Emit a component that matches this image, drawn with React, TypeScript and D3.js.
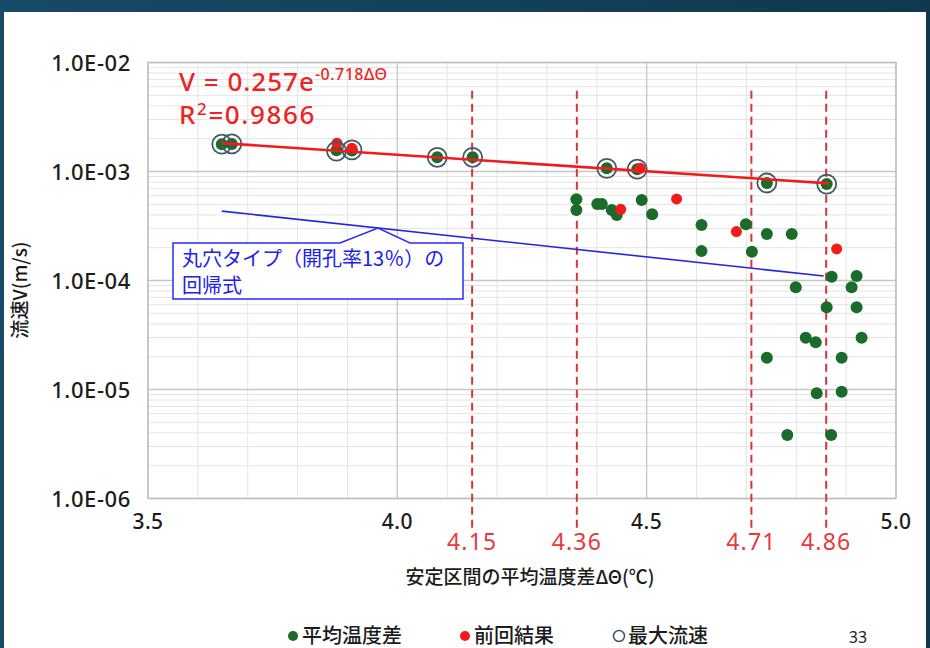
import React from "react";
import * as d3 from "d3";

// ---- data ----
const avgX = [3.648, 3.668, 3.878, 3.909, 4.08, 4.151, 4.42, 4.481, 4.741, 4.861,
  4.359, 4.359, 4.401, 4.41, 4.43, 4.44, 4.49, 4.511, 4.61, 4.61, 4.699, 4.711, 4.741, 4.791,
  4.871, 4.921, 4.799, 4.911, 4.861, 4.921, 4.819, 4.839, 4.931, 4.741, 4.891, 4.841, 4.891, 4.782, 4.87];
const avgV = [1.78e-3, 1.79e-3, 1.57e-3, 1.56e-3, 1.35e-3, 1.35e-3, 1.07e-3, 1.05e-3, 7.84e-4, 7.67e-4,
  5.57e-4, 4.43e-4, 5.04e-4, 5.04e-4, 4.43e-4, 3.99e-4, 5.48e-4, 4.05e-4, 3.23e-4, 1.86e-4, 3.28e-4, 1.84e-4, 2.67e-4, 2.67e-4,
  1.08e-4, 1.1e-4, 8.67e-5, 8.67e-5, 5.68e-5, 5.68e-5, 2.99e-5, 2.71e-5, 2.99e-5, 1.96e-5, 1.96e-5, 9.23e-6, 9.55e-6, 3.83e-6, 3.83e-6];
const prevX = [3.879, 3.909, 4.487, 4.448, 4.56, 4.68, 4.881];
const prevV = [1.82e-3, 1.63e-3, 1.07e-3, 4.5e-4, 5.6e-4, 2.81e-4, 1.95e-4];
const maxX = [3.648, 3.668, 3.878, 3.909, 4.08, 4.151, 4.42, 4.481, 4.741, 4.861];
const maxV = [1.78e-3, 1.79e-3, 1.54e-3, 1.58e-3, 1.35e-3, 1.35e-3, 1.07e-3, 1.05e-3, 7.84e-4, 7.67e-4];
const fitX = [3.648, 4.866];
const fitV = [1.82e-3, 7.78e-4];
const roundX = [3.648, 4.855];
const roundV = [4.33e-4, 1.1e-4];
const thresholds = [4.15, 4.36, 4.71, 4.86];
const thresholdLabels = ["4.15", "4.36", "4.71", "4.86"];
const thresholdRange = [5.5e-3, 5e-7];
const xTicks = [3.5, 4.0, 4.5, 5.0];
const xTickLabels = ["3.5", "4.0", "4.5", "5.0"];
const yTicks = [1e-2, 1e-3, 1e-4, 1e-5, 1e-6];
const yTickLabels = ["1.0E-02", "1.0E-03", "1.0E-04", "1.0E-05", "1.0E-06"];
const legendLabels = ["平均温度差", "前回結果", "最大流速"];

const FONT = "'Noto Sans', 'Noto Sans CJK JP', sans-serif";
const JP = "'Noto Sans CJK JP', 'Noto Sans', sans-serif";

export default function App() {
  const W = 930, H = 648;
  const x = d3.scaleLinear().domain([3.5, 5.0]).range([148, 896]);
  const y = d3.scaleLog().domain([1e-6, 1e-2]).range([498.5, 62.5]);

  const minorX = d3.range(36, 50).map((v) => v / 10).filter((v) => Math.abs(v * 2 - Math.round(v * 2)) > 1e-6);
  const minorY: number[] = [];
  for (let d = -6; d <= -3; d++) for (let k = 2; k <= 9; k++) minorY.push(k * Math.pow(10, d));

  const line = d3.line<[number, number]>().x((d) => x(d[0])).y((d) => y(d[1]));
  const fitPts = fitX.map((v, i) => [v, fitV[i]] as [number, number]);
  const roundPts = roundX.map((v, i) => [v, roundV[i]] as [number, number]);

  const green = "#1b6b2a";
  const red = "#f21b1b";
  const ring = "#3e5a68";

  // callout
  const bx0 = 173, bx1 = 463, by0 = 243, by1 = 299;
  const apexX = 378;
  const apexY = y(Math.exp(d3.scaleLinear().domain(roundX).range(roundV.map(Math.log))(x.invert(apexX))));
  const calloutPath = `M${bx0},${by0} L340,${by0} L${apexX},${apexY} L410,${by0} L${bx1},${by0} L${bx1},${by1} L${bx0},${by1} Z`;

  return (
    <svg width={W} height={H} style={{ position: "absolute", left: 0, top: 0 }} xmlns="http://www.w3.org/2000/svg">
      <defs>
        <linearGradient id="band" x1="0" x2="1" y1="0" y2="0">
          <stop offset="0" stopColor="#174a66" />
          <stop offset="1" stopColor="#10384f" />
        </linearGradient>
      </defs>
      <rect x={0} y={0} width={W} height={H} fill="url(#band)" />
      <rect x={4} y={12} width={W - 8} height={H - 12} fill="#ffffff" />

      {/* grid */}
      {minorX.map((v) => (
        <line key={"mx" + v} x1={x(v)} x2={x(v)} y1={y(1e-2)} y2={y(1e-6)} stroke="#e4e4e4" strokeWidth={1} />
      ))}
      {minorY.map((v) => (
        <line key={"my" + v} x1={x(3.5)} x2={x(5)} y1={y(v)} y2={y(v)} stroke="#e4e4e4" strokeWidth={1} />
      ))}
      {xTicks.map((v) => (
        <line key={"gx" + v} x1={x(v)} x2={x(v)} y1={y(1e-2)} y2={y(1e-6)} stroke="#c6c6c6" strokeWidth={1.3} />
      ))}
      {yTicks.map((v) => (
        <line key={"gy" + v} x1={x(3.5)} x2={x(5)} y1={y(v)} y2={y(v)} stroke="#c6c6c6" strokeWidth={1.3} />
      ))}
      <rect x={x(3.5)} y={y(1e-2)} width={x(5) - x(3.5)} height={y(1e-6) - y(1e-2)} fill="none" stroke="#bdbdbd" strokeWidth={1.3} />

      {/* threshold dashed lines */}
      {thresholds.map((v) => (
        <line key={"t" + v} x1={x(v)} x2={x(v)} y1={y(thresholdRange[0])} y2={y(thresholdRange[1])}
          stroke="#d8343c" strokeWidth={2} strokeDasharray="8,5" />
      ))}

      {/* blue regression */}
      <path d={line(roundPts) || ""} fill="none" stroke="#2424e0" strokeWidth={1.6} />

      {/* points */}
      {avgX.map((v, i) => (
        <circle key={"g" + i} cx={x(v)} cy={y(avgV[i])} r={6} fill={green} />
      ))}
      {prevX.map((v, i) => (
        <circle key={"r" + i} cx={x(v)} cy={y(prevV[i])} r={5.5} fill={red} />
      ))}
      {maxX.map((v, i) => (
        <circle key={"m" + i} cx={x(v)} cy={y(maxV[i])} r={9.5} fill="none" stroke={ring} strokeWidth={1.8} />
      ))}

      {/* red regression */}
      <path d={line(fitPts) || ""} fill="none" stroke={red} strokeWidth={2.6} />

      {/* equation */}
      <text x={179} y={91} fill="#ee2424" fontFamily={FONT} fontSize={26} fontWeight={500} letterSpacing={1}>
        V = 0.257e<tspan fontSize={16} dy={-11} letterSpacing={0.5}>-0.718ΔΘ</tspan>
      </text>
      <text x={179} y={124} fill="#ee2424" fontFamily={FONT} fontSize={26} fontWeight={500} letterSpacing={1.6}>
        R<tspan fontSize={17} dy={-9}>2</tspan><tspan dy={9}>=0.9866</tspan>
      </text>

      {/* callout */}
      <path d={calloutPath} fill="#ffffff" stroke="#2a2aff" strokeWidth={1.5} />
      <text x={182} y={266} fill="#2020f0" fontFamily={JP} fontSize={20}>丸穴タイプ（開孔率13％）の</text>
      <text x={182} y={293} fill="#2020f0" fontFamily={JP} fontSize={20}>回帰式</text>

      {/* y ticks */}
      {yTicks.map((v, i) => (
        <text key={"yl" + v} x={131} y={y(v) + 8} textAnchor="end" fill="#1c1c1c" fontFamily={FONT} fontSize={22} fontWeight={500} letterSpacing={0.6}>
          {yTickLabels[i]}
        </text>
      ))}
      {/* x ticks */}
      {xTicks.map((v, i) => (
        <text key={"xl" + v} x={x(v)} y={529} textAnchor="middle" fill="#1c1c1c" fontFamily={FONT} fontSize={21} fontWeight={500} letterSpacing={0.5}>
          {xTickLabels[i]}
        </text>
      ))}
      {thresholds.map((v, i) => (
        <text key={"tl" + v} x={x(v)} y={550} textAnchor="middle" fill="#e8383d" fontFamily={FONT} fontSize={23} letterSpacing={1.2}>
          {thresholdLabels[i]}
        </text>
      ))}

      {/* axis titles */}
      <text x={530} y={584} textAnchor="middle" fill="#1c1c1c" fontFamily={JP} fontSize={19} fontWeight={500}>
        安定区間の平均温度差ΔΘ(℃)
      </text>
      <text transform="translate(27,290) rotate(-90)" textAnchor="middle" fill="#1c1c1c" fontFamily={JP} fontSize={19} fontWeight={500}>
        流速V(m/s)
      </text>

      {/* legend */}
      <circle cx={293} cy={636} r={5} fill={green} />
      <text x={302} y={643} fill="#1c1c1c" fontFamily={JP} fontSize={20} fontWeight={500}>{legendLabels[0]}</text>
      <circle cx={465} cy={636} r={5} fill={red} />
      <text x={474} y={643} fill="#1c1c1c" fontFamily={JP} fontSize={20} fontWeight={500}>{legendLabels[1]}</text>
      <circle cx={619} cy={636} r={5.5} fill="none" stroke={ring} strokeWidth={1.5} />
      <text x={628} y={643} fill="#1c1c1c" fontFamily={JP} fontSize={20} fontWeight={500}>{legendLabels[2]}</text>

      <text x={858} y={643} textAnchor="middle" fill="#1c1c1c" fontFamily={FONT} fontSize={16}>33</text>
    </svg>
  );
}
